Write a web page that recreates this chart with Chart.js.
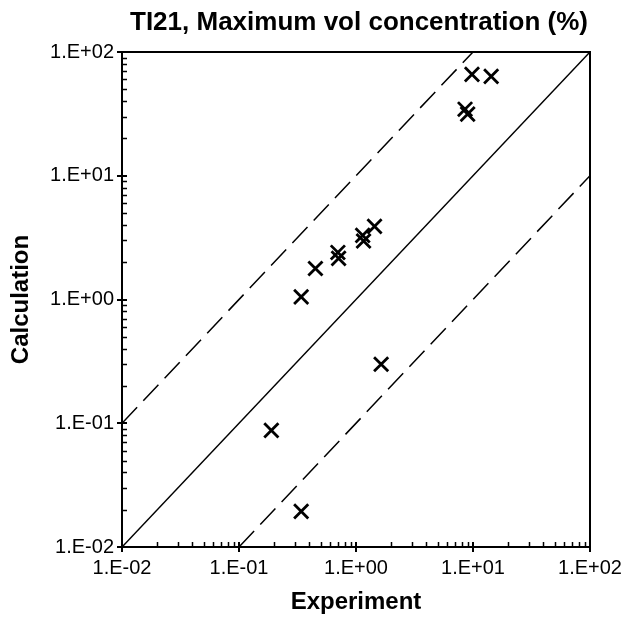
<!DOCTYPE html>
<html>
<head>
<meta charset="utf-8">
<script src="https://cdn.jsdelivr.net/npm/chart.js@4"></script>
<style>
    html, body { margin: 0; padding: 0; background: #ffffff; }
    canvas { display: block; }
</style>
</head>
<body>
<canvas id="chart" width="625" height="620"></canvas>
<script>
// Data
const experiment  = [9.8, 14.3, 8.55, 9.0, 1.44, 1.14, 1.16, 0.70, 0.71, 0.45, 0.34, 0.189, 1.64, 0.34];
const calculation = [66, 63.5, 34.5, 31.5, 3.9, 3.3, 2.97, 2.4, 2.15, 1.78, 1.05, 0.0875, 0.30, 0.0194];

// Axis ticks (same for both axes)
const tickValues = [0.01, 0.1, 1, 10, 100];
const tickLabels = ['1.E-02', '1.E-01', '1.E+00', '1.E+01', '1.E+02'];
const minorSteps = [2, 3, 4, 5, 6, 7, 8, 9];

// Reference lines: y = factor * x
const refFactors = [1, 10, 0.1];

const axisMin = tickValues[0];
const axisMax = tickValues[tickValues.length - 1];

const FONT = "'Liberation Sans', Arial, sans-serif";

// Build the reference line datasets, ends clipped to the axis box
const refLines = refFactors.map(f => {
    const x0 = Math.max(axisMin, axisMin / f);
    const x1 = Math.min(axisMax, axisMax / f);
    return {
        type: 'line',
        data: [{ x: x0, y: x0 * f }, { x: x1, y: x1 * f }],
        borderColor: '#000000',
        borderWidth: 1.5,
        borderDash: f === 1 ? [] : [22, 9],
        pointRadius: 0,
        fill: false,
        tension: 0
    };
});

// Frame, tick marks and title
const framePlugin = {
    id: 'frame',
    afterDraw(chart) {
        const ctx = chart.ctx;
        const area = chart.chartArea;
        const xs = chart.scales.x;
        const ys = chart.scales.y;
        ctx.save();
        ctx.strokeStyle = '#000000';
        ctx.lineWidth = 1.5;

        // minor ticks, inside only
        ctx.beginPath();
        tickValues.slice(0, -1).forEach(v => {
            minorSteps.forEach(m => {
                const px = Math.round(xs.getPixelForValue(v * m)) + 0.5;
                ctx.moveTo(px, area.bottom);
                ctx.lineTo(px, area.bottom - 5);
                const py = Math.round(ys.getPixelForValue(v * m)) + 0.5;
                ctx.moveTo(area.left, py);
                ctx.lineTo(area.left + 5, py);
            });
        });
        ctx.stroke();

        // major ticks, crossing the axis
        ctx.lineWidth = 2;
        ctx.beginPath();
        tickValues.forEach(v => {
            const px = Math.round(xs.getPixelForValue(v));
            ctx.moveTo(px, area.bottom + 5);
            ctx.lineTo(px, area.bottom - 5);
            const py = Math.round(ys.getPixelForValue(v));
            ctx.moveTo(area.left - 5, py);
            ctx.lineTo(area.left + 5, py);
        });
        ctx.stroke();

        // plot box
        ctx.lineWidth = 2;
        ctx.strokeRect(area.left, area.top, area.right - area.left, area.bottom - area.top);

        // chart title
        ctx.fillStyle = '#000000';
        ctx.font = 'bold 26px ' + FONT;
        ctx.textAlign = 'center';
        ctx.textBaseline = 'alphabetic';
        ctx.fillText('TI21, Maximum vol concentration (%)', (area.left + area.right) / 2 + 3, 30);
        ctx.restore();
    }
};

const ctx = document.getElementById('chart');
new Chart(ctx, {
    type: 'scatter',
    data: {
        datasets: [
            {
                data: experiment.map((x, i) => ({ x: x, y: calculation[i] })),
                pointStyle: 'crossRot',
                pointRadius: 10,
                pointBorderWidth: 2.8,
                borderColor: '#000000',
                backgroundColor: '#000000'
            },
            ...refLines
        ]
    },
    options: {
        responsive: false,
        animation: false,
        layout: {
            padding: { top: 52, right: 35, bottom: 0, left: 0 }
        },
        plugins: {
            legend: { display: false },
            tooltip: { enabled: false },
            title: { display: false }
        },
        scales: {
            x: {
                type: 'logarithmic',
                min: axisMin,
                max: axisMax,
                grid: { display: false, drawTicks: false },
                border: { display: false },
                afterBuildTicks: scale => {
                    scale.ticks = tickValues.map(v => ({ value: v }));
                },
                afterFit: scale => {
                    scale.height = 73;
                    scale.paddingLeft = 0;
                    scale.paddingRight = 0;
                },
                ticks: {
                    autoSkip: false,
                    maxRotation: 0,
                    padding: 9,
                    color: '#000000',
                    font: { family: FONT, size: 20 },
                    callback: value => tickLabels[tickValues.indexOf(value)]
                },
                title: {
                    display: true,
                    text: 'Experiment',
                    color: '#000000',
                    font: { family: FONT, size: 24, weight: 'bold' },
                    padding: { top: 0, bottom: 3 }
                }
            },
            y: {
                type: 'logarithmic',
                min: axisMin,
                max: axisMax,
                grid: { display: false, drawTicks: false },
                border: { display: false },
                afterBuildTicks: scale => {
                    scale.ticks = tickValues.map(v => ({ value: v }));
                },
                afterFit: scale => {
                    scale.width = 122;
                    scale.paddingTop = 0;
                    scale.paddingBottom = 0;
                },
                ticks: {
                    autoSkip: false,
                    padding: 8,
                    color: '#000000',
                    font: { family: FONT, size: 20 },
                    callback: value => tickLabels[tickValues.indexOf(value)]
                },
                title: {
                    display: true,
                    text: 'Calculation',
                    color: '#000000',
                    font: { family: FONT, size: 24, weight: 'bold' },
                    padding: { top: 7, bottom: 0 }
                }
            }
        }
    },
    plugins: [framePlugin]
});
</script>
</body>
</html>
